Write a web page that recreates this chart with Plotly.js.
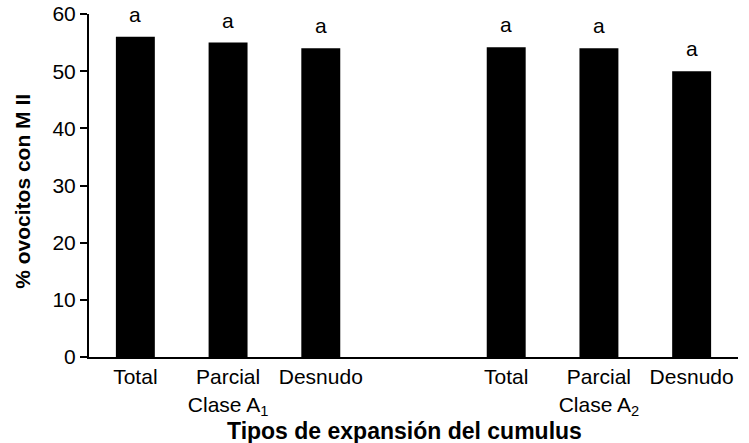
<!DOCTYPE html>
<html>
<head>
<meta charset="utf-8">
<script src="https://cdn.plot.ly/plotly-3.0.1.min.js"></script>
<style>
  html, body { margin: 0; padding: 0; background: #fff; }
  #chart { width: 749px; height: 443px; }
</style>
</head>
<body>
<div id="chart"></div>
<script>
// Expansion classes and cumulus expansion types
const groups = ['Clase A<sub>1</sub>', 'Clase A<sub>2</sub>'];
const types = ['Total', 'Parcial', 'Desnudo'];

// % oocytes reaching M II, per class (order follows `types`)
const valuesA1 = [56, 55, 54];
const valuesA2 = [54.2, 54, 50];

// Significance letters above each bar
const lettersA1 = ['a', 'a', 'a'];
const lettersA2 = ['a', 'a', 'a'];

const yTicks = [0, 10, 20, 30, 40, 50, 60];

// Build unique category ids, with an empty slot separating the two classes
const allValues = [valuesA1, valuesA2];
const allLetters = [lettersA1, lettersA2];
const ids = [], vals = [], tickText = [], letters = [];
groups.forEach((g, gi) => {
  types.forEach((t, ti) => {
    ids.push('g' + gi + '_' + ti);
    vals.push(allValues[gi][ti]);
    letters.push(allLetters[gi][ti]);
    tickText.push(t === 'Parcial' ? t + '<br>' + g : t);
  });
});
const order = ids.slice(0, 3).concat(['gap']).concat(ids.slice(3));

const font = 'Arial, "Liberation Sans", sans-serif';

const trace = {
  type: 'bar',
  x: ids,
  y: vals,
  width: 0.42,
  marker: { color: '#000000', line: { width: 0 } },
  hoverinfo: 'x+y'
};

const annotations = ids.map((id, i) => ({
  x: id, y: vals[i], xref: 'x', yref: 'y',
  text: letters[i], showarrow: false,
  yanchor: 'bottom', yshift: 9,
  font: { family: font, size: 21, color: '#000' }
}));

// Axis titles, placed as paper annotations
annotations.push({
  xref: 'paper', yref: 'paper', x: 0.486, y: 0,
  xanchor: 'center', yanchor: 'top', yshift: -59,
  text: '<b>Tipos de expansión del cumulus</b>', showarrow: false,
  font: { family: font, size: 23, color: '#000' }
});
annotations.push({
  xref: 'paper', yref: 'paper', x: -0.102, y: 0.484,
  xanchor: 'center', yanchor: 'middle', textangle: -90,
  text: '<b>% ovocitos con M II</b>', showarrow: false,
  font: { family: font, size: 21, color: '#000' }
});

const layout = {
  width: 749, height: 443,
  margin: { l: 89, r: 11, t: 14, b: 86 },
  paper_bgcolor: '#fff', plot_bgcolor: '#fff',
  showlegend: false,
  font: { family: font, color: '#000' },
  xaxis: {
    type: 'category',
    categoryorder: 'array',
    categoryarray: order,
    tickvals: ids,
    ticktext: tickText,
    ticks: '',
    showgrid: false,
    zeroline: false,
    showline: true, linecolor: '#000', linewidth: 2,
    tickfont: { family: font, size: 21, color: '#000' },
    fixedrange: true
  },
  yaxis: {
    range: [0, 60],
    tickvals: yTicks,
    ticks: 'outside', ticklen: 7, tickwidth: 2, tickcolor: '#000',
    showgrid: false, zeroline: false,
    showline: true, linecolor: '#000', linewidth: 2,
    tickfont: { family: font, size: 21, color: '#000' },
    fixedrange: true
  },
  bargap: 0.58,
  annotations: annotations
};

Plotly.newPlot('chart', [trace], layout, { displayModeBar: false, staticPlot: true });
</script>
</body>
</html>
